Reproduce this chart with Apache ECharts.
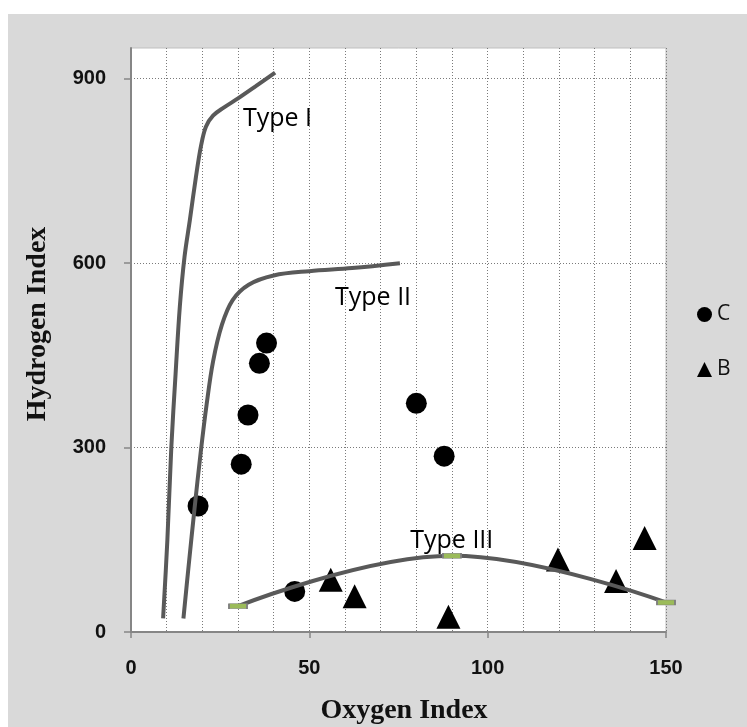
<!DOCTYPE html>
<html><head><meta charset="utf-8">
<script src="https://cdn.jsdelivr.net/npm/echarts@6/dist/echarts.min.js"></script>
<style>
html,body{margin:0;padding:0;background:#fff;}
#wrap{position:relative;width:747px;height:727px;background:#fff;}
#bg{position:absolute;left:8px;top:14px;right:0;bottom:0;background:#D9D9D9;}
#c{position:absolute;left:0;top:0;width:747px;height:727px;}
</style>
</head><body>
<div id="wrap"><div id="bg"></div><div id="c"></div></div>
<script>
// ---- data ----
const xTickLabels = [0, 50, 100, 150];
const yTickLabels = [0, 300, 600, 900];
const typeICurve = [[9,22],[10.2,150],[11.3,300],[12.5,420],[13.7,530],[15.0,610],[16.5,670],[18.2,740],[19.6,790],[21,822],[23,840],[26,853],[30,868],[35,888],[40.4,910]];
const typeIICurve = [[14.7,22],[16.2,110],[17.8,200],[19.5,290],[21.2,370],[23,440],[25.5,500],[28.5,540],[33,565],[40,580],[50,587],[62,592],[75.4,600]];
const typeIIICurve = [[30,42],[90,124],[150,48]];
const seriesC = [[18.8,205],[30.9,273],[32.8,353],[36.0,437],[38.0,470],[80.0,372],[87.8,286],[45.9,66]];
const seriesB = [[56.0,85],[62.7,58],[89.0,25],[119.7,118],[136,83],[144,153]];
const curveNames = ['Type I', 'Type II', 'Type III'];
const curveLabelAnchors = [[31.4,835],[57.2,544],[78.3,148]];

const lineGray = '#595959';
const dotted = {color:'#7a7a7a', width:1, type:[1,2]};
const chart = echarts.init(document.getElementById('c'), null, {renderer:'canvas'});

const curveSeries = (name, data, extra) => Object.assign({
  name, type:'line', data, smooth:0.35,
  showSymbol:false, symbol:'none', z:4,
  lineStyle:{color:lineGray, width:4}, itemStyle:{color:lineGray}
}, extra||{});

chart.setOption({
  backgroundColor:'transparent',
  animation:false,
  grid:{left:131, right:81, top:48, bottom:95, show:true, backgroundColor:'#ffffff', borderColor:'#BFBFBF', borderWidth:1},
  xAxis:{
    type:'value', min:0, max:150, interval:50,
    axisLine:{show:true, onZero:false, lineStyle:{color:'#868686', width:2}},
    axisTick:{show:true, length:6, lineStyle:{color:'#868686', width:1.5}},
    axisLabel:{margin:26, fontFamily:'Liberation Sans', fontWeight:'bold', fontSize:20, color:'#111',
      formatter:v => xTickLabels.includes(v) ? String(v) : ''},
    splitLine:{show:true, lineStyle:dotted},
    minorTick:{show:false, splitNumber:5},
    minorSplitLine:{show:true, lineStyle:dotted}
  },
  yAxis:{
    type:'value', min:0, max:950, interval:300,
    axisLine:{show:true, onZero:false, lineStyle:{color:'#868686', width:2}},
    axisTick:{show:true, length:7, customValues:yTickLabels, lineStyle:{color:'#868686', width:1.5}},
    axisLabel:{margin:25, customValues:yTickLabels, fontFamily:'Liberation Sans', fontWeight:'bold', fontSize:20, color:'#111',
      formatter:v => yTickLabels.includes(v) ? String(v) : ''},
    splitLine:{show:true, lineStyle:dotted}
  },
  legend:{
    data:['C','B'], orient:'vertical', left:692, top:299, itemWidth:15, itemHeight:15, itemGap:34,
    textStyle:{fontFamily:'Open Sans', fontSize:21, color:'#111'}
  },
  graphic:[
    {type:'text', x:404, y:711, style:{text:'Oxygen Index', x:0, y:0, align:'center', verticalAlign:'middle',
      font:'bold 28px "Liberation Serif"', fill:'#111'}},
    {type:'text', x:38, y:324, rotation:Math.PI/2, style:{text:'Hydrogen Index', x:0, y:0, align:'center', verticalAlign:'middle',
      font:'bold 28px "Liberation Serif"', fill:'#111'}}
  ],
  series:[
    {name:'C', type:'scatter', data:seriesC, symbol:'circle', symbolSize:21, z:2, itemStyle:{color:'#000', opacity:1}},
    {name:'B', type:'scatter', data:seriesB, symbol:'triangle', symbolSize:24, z:2, itemStyle:{color:'#000', opacity:1}},
    curveSeries(curveNames[0], typeICurve),
    curveSeries(curveNames[1], typeIICurve),
    curveSeries(curveNames[2], typeIIICurve, {smooth:0.4, showSymbol:true, symbol:'rect', symbolSize:[18,5],
      itemStyle:{color:'#9BBB59', borderColor:'#7f7f7f', borderWidth:1}}),
    {name:'labels', type:'scatter', symbolSize:0, z:5, silent:true, itemStyle:{opacity:1},
      data:curveLabelAnchors.map((p,i)=>({value:p, name:curveNames[i]})),
      label:{show:true, position:'right', distance:0, formatter:p=>p.name,
        fontFamily:'Open Sans', fontSize:25, color:'#000'}}
  ]
});
</script>
</body></html>
